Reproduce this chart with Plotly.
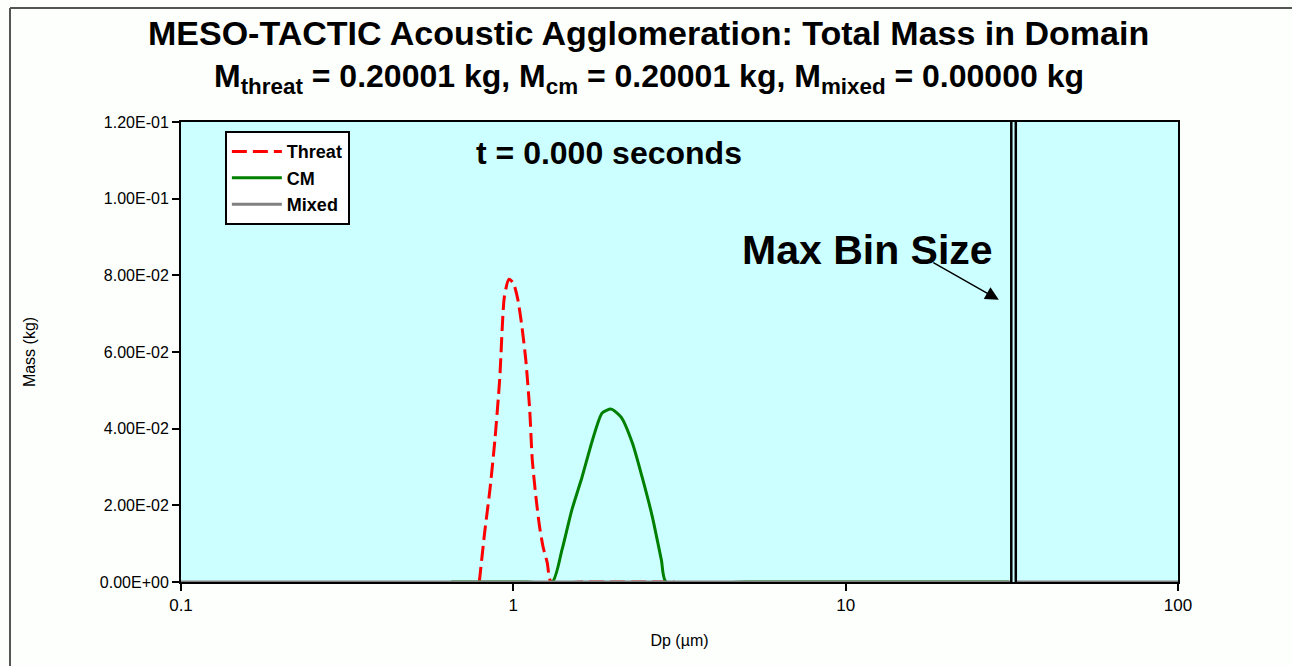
import math
import plotly.graph_objects as go

# Particle size distributions at t = 0 (diameter in micrometres, mass in kg)
threat_dp = [0.79, 0.82, 0.85, 0.88, 0.91, 0.94, 0.97, 1.00, 1.03, 1.06, 1.09,
             1.12, 1.14, 1.17, 1.20, 1.23, 1.265, 1.30, 1.6, 2.0, 2.5, 3.05]
threat_mass = [0.0, 0.013, 0.024, 0.037, 0.053, 0.0745, 0.079, 0.078, 0.074,
               0.067, 0.058, 0.045, 0.032, 0.022, 0.0143, 0.009, 0.005, 0.0,
               0.0, 0.0, 0.0, 0.0]

cm_dp = [0.65, 0.9, 1.1, 1.31, 1.40, 1.50, 1.61, 1.73, 1.85, 1.97, 2.11, 2.28,
         2.44, 2.62, 2.79, 2.88, 5.0, 10.0, 20.0, 31.0]
cm_mass = [0.0, 0.0, 0.0, 0.0, 0.0083, 0.0188, 0.0274, 0.037, 0.0441, 0.0451,
           0.043, 0.0363, 0.0274, 0.017, 0.0057, 0.0, 0.0, 0.0, 0.0, 0.0]

mixed_dp = [0.1, 1.0, 10.0, 100.0]
mixed_mass = [0.0, 0.0, 0.0, 0.0]

max_bin_dp = 32.0
max_bin_mass = [0.0, 0.125]

# Point the "Max Bin Size" arrow lands on
arrow_tip_dp = 28.9
arrow_tip_mass = 0.0736

y_tick_vals = [0.0, 0.02, 0.04, 0.06, 0.08, 0.10, 0.12]
y_tick_text = ["0.00E+00", "2.00E-02", "4.00E-02", "6.00E-02",
               "8.00E-02", "1.00E-01", "1.20E-01"]
x_tick_vals = [0.1, 1, 10, 100]
x_tick_text = ["0.1", "1", "10", "100"]

FONT = "Liberation Sans, Arial, sans-serif"
PLOT_BG = "#CCFFFF"

fig = go.Figure()

fig.add_trace(go.Scatter(
    x=threat_dp, y=threat_mass, mode="lines", name="Threat",
    line=dict(color="#FF0000", width=3, dash="15px,6px", shape="spline",
              smoothing=0.6),
))
fig.add_trace(go.Scatter(
    x=cm_dp, y=cm_mass, mode="lines", name="CM",
    line=dict(color="#008000", width=3, shape="spline", smoothing=0.6),
))
fig.add_trace(go.Scatter(
    x=mixed_dp, y=mixed_mass, mode="lines", name="Mixed",
    line=dict(color="#808080", width=3),
))

# Max bin size marker: a double black line
fig.add_trace(go.Scatter(
    x=[max_bin_dp, max_bin_dp], y=max_bin_mass, mode="lines",
    line=dict(color="black", width=7), showlegend=False, hoverinfo="skip",
))
fig.add_trace(go.Scatter(
    x=[max_bin_dp, max_bin_dp], y=max_bin_mass, mode="lines",
    line=dict(color=PLOT_BG, width=2), showlegend=False, hoverinfo="skip",
))

annotations = [
    dict(text="<b>MESO-TACTIC Acoustic Agglomeration: Total Mass in Domain</b>",
         xref="paper", yref="paper", x=0.469, y=1.1935,
         xanchor="center", yanchor="middle", showarrow=False,
         font=dict(family=FONT, size=34, color="black")),
    dict(text="<b>M<sub>threat</sub> = 0.20001 kg, M<sub>cm</sub> = 0.20001 kg, "
              "M<sub>mixed</sub> = 0.00000 kg</b>",
         xref="paper", yref="paper", x=0.469, y=1.095,
         xanchor="center", yanchor="middle", showarrow=False,
         font=dict(family=FONT, size=32, color="black")),
    dict(text="<b>t = 0.000 seconds</b>",
         xref="paper", yref="paper", x=0.429, y=0.933,
         xanchor="center", yanchor="middle", showarrow=False,
         font=dict(family=FONT, size=32, color="black")),
    dict(text="<b>Max Bin Size</b>",
         xref="paper", yref="paper", x=0.689, y=0.722,
         xanchor="center", yanchor="middle", showarrow=False,
         font=dict(family=FONT, size=41, color="black")),
    # log axis: annotation x is given in log10 units
    dict(text="", x=math.log10(arrow_tip_dp), y=arrow_tip_mass,
         xref="x", yref="y",
         ax=-67, ay=-38, axref="pixel", ayref="pixel",
         showarrow=True, arrowhead=2, arrowsize=1.8, arrowwidth=1.5,
         arrowcolor="black"),
]

fig.update_layout(
    width=1292, height=666,
    margin=dict(l=181, r=114, t=122, b=84),
    paper_bgcolor="#FCFFFC",
    plot_bgcolor=PLOT_BG,
    font=dict(family=FONT, color="black"),
    showlegend=True,
    legend=dict(
        x=0.044, y=0.98, xanchor="left", yanchor="top",
        bgcolor="white", bordercolor="black", borderwidth=2,
        font=dict(family=FONT, size=18, color="black", weight="bold"),
        itemwidth=50, tracegroupgap=0,
    ),
    annotations=annotations,
    shapes=[
        dict(type="line", xref="paper", yref="paper",
             x0=(10 - 181) / 997, x1=(1300 - 181) / 997,
             y0=(582 - 8) / 460, y1=(582 - 8) / 460,
             line=dict(color="#555555", width=2)),
        dict(type="line", xref="paper", yref="paper",
             x0=(10 - 181) / 997, x1=(10 - 181) / 997,
             y0=(582 - 8) / 460, y1=(582 - 680) / 460,
             line=dict(color="#555555", width=2)),
    ],
)

fig.update_xaxes(
    type="log", range=[-1, 2],
    tickvals=x_tick_vals, ticktext=x_tick_text,
    ticks="outside", ticklen=7, tickwidth=2, tickcolor="black",
    showline=True, linecolor="black", linewidth=2, mirror=True,
    showgrid=False, zeroline=False,
    tickfont=dict(family=FONT, size=17, color="black"),
    title=dict(text="Dp (µm)", font=dict(family=FONT, size=16, color="black"),
               standoff=20),
)
fig.update_yaxes(
    range=[0, 0.12],
    tickvals=y_tick_vals, ticktext=y_tick_text,
    ticks="outside", ticklen=7, tickwidth=2, tickcolor="black",
    showline=True, linecolor="black", linewidth=2, mirror=True,
    showgrid=False, zeroline=False,
    tickfont=dict(family=FONT, size=16, color="black"),
    title=dict(text="Mass (kg)", font=dict(family=FONT, size=16, color="black"),
               standoff=60),
)

fig.write_html("out.html")
